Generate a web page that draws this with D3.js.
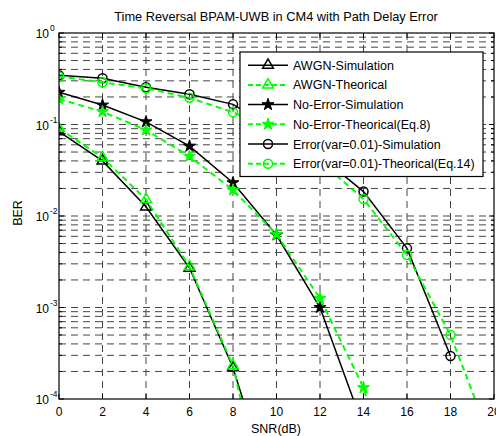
<!DOCTYPE html>
<html><head><meta charset="utf-8">
<script src="https://cdn.jsdelivr.net/npm/d3@7/dist/d3.min.js"></script>
<style>body{margin:0;background:#fff}svg{display:block}text{font-family:"Liberation Sans",Arial,sans-serif}</style>
</head><body><svg id="c" width="496" height="436"></svg>
<script>
const snr = [0, 2, 4, 6, 8, 10, 12, 14, 16, 18, 20];
const awgnSim = [0.0835, 0.040, 0.0126, 0.0027, 0.00022, 6.6e-6, null, null, null, null, null];
const awgnTheo = [0.091, 0.0434, 0.0152, 0.0028, 0.000231, 1.9e-6, null, null, null, null, null];
const noErrSim = [0.225, 0.163, 0.107, 0.058, 0.0231, 0.0062, 0.001, 4.9e-5, null, null, null];
const noErrTheo = [0.19, 0.138, 0.087, 0.045, 0.0192, 0.0063, 0.00126, 1.33e-4, 3e-6, null, null];
const errSim = [0.345, 0.32, 0.255, 0.214, 0.166, 0.087, 0.045, 0.0185, 0.00443, 2.95e-4, null];
const errTheo = [0.335, 0.289, 0.249, 0.196, 0.136, 0.085, 0.040, 0.0153, 0.00375, 5.0e-4, 2.9e-5];
const xTicks = [0, 2, 4, 6, 8, 10, 12, 14, 16, 18, 20];
const yTicks = [1e-4, 1e-3, 1e-2, 1e-1, 1];
const yTickExp = ["-4", "-3", "-2", "-1", "0"];
const seriesNames = ["AWGN-Simulation", "AWGN-Theorical", "No-Error-Simulation", "No-Error-Theorical(Eq.8)", "Error(var=0.01)-Simulation", "Error(var=0.01)-Theorical(Eq.14)"];
const titleText = "Time Reversal BPAM-UWB in CM4 with Path Delay Error";

const series = [
  {name: seriesNames[0], vals: awgnSim, color: "#000", dash: null, sym: "tri"},
  {name: seriesNames[1], vals: awgnTheo, color: "#00ff00", dash: "6,4", sym: "tri"},
  {name: seriesNames[2], vals: noErrSim, color: "#000", dash: null, sym: "star"},
  {name: seriesNames[3], vals: noErrTheo, color: "#00ff00", dash: "6,4", sym: "star"},
  {name: seriesNames[4], vals: errSim, color: "#000", dash: null, sym: "circ"},
  {name: seriesNames[5], vals: errTheo, color: "#00ff00", dash: "6,4", sym: "circ"}
];

const L = 59, R = 494, T = 33, B = 399;
const x = d3.scaleLinear().domain([0, 20]).range([L, R]);
const y = d3.scaleLog().domain([1e-4, 1]).range([B, T]);
const svg = d3.select("#c");

svg.append("defs").append("clipPath").attr("id", "clip")
  .append("rect").attr("x", L).attr("y", T).attr("width", R - L).attr("height", B - T);

// grid
const minor = [];
for (let e = -4; e < 0; e++) for (let m = 1; m <= 9; m++) minor.push(m * Math.pow(10, e));
const gridG = svg.append("g");
gridG.selectAll("line.h").data(minor.slice(1)).enter().append("line")
  .attr("x1", L).attr("x2", R).attr("y1", d => y(d)).attr("y2", d => y(d))
  .attr("stroke", "#444").attr("stroke-width", 1).attr("stroke-dasharray", "7,5");
gridG.selectAll("line.v").data(xTicks.slice(1, -1)).enter().append("line")
  .attr("x1", d => x(d)).attr("x2", d => x(d)).attr("y1", T).attr("y2", B)
  .attr("stroke", "#444").attr("stroke-width", 1).attr("stroke-dasharray", "7,5");

// ticks
const tk = svg.append("g").attr("stroke", "#000").attr("stroke-width", 1);
xTicks.forEach(d => {
  tk.append("line").attr("x1", x(d)).attr("x2", x(d)).attr("y1", B).attr("y2", B - 5);
  tk.append("line").attr("x1", x(d)).attr("x2", x(d)).attr("y1", T).attr("y2", T + 5);
});
minor.concat([1]).forEach(d => {
  const len = (Math.abs(Math.log10(d) - Math.round(Math.log10(d))) < 1e-9) ? 5 : 3;
  tk.append("line").attr("x1", L).attr("x2", L + len).attr("y1", y(d)).attr("y2", y(d));
  tk.append("line").attr("x1", R).attr("x2", R - len).attr("y1", y(d)).attr("y2", y(d));
});

// data
const plot = svg.append("g").attr("clip-path", "url(#clip)");
const lineGen = d3.line().defined(d => d[1] != null).x(d => x(d[0])).y(d => y(d[1]));
function drawMarker(g, sym, color, cx, cy) {
  if (sym === "tri") {
    g.append("path").attr("d", d3.symbol(d3.symbolTriangle, 50)()).attr("transform", `translate(${cx},${cy})`)
      .attr("fill", "none").attr("stroke", color).attr("stroke-width", 1.5);
  } else if (sym === "star") {
    g.append("path").attr("d", d3.symbol(d3.symbolStar, 45)()).attr("transform", `translate(${cx},${cy})`)
      .attr("fill", color).attr("stroke", color).attr("stroke-width", 1);
  } else {
    g.append("circle").attr("cx", cx).attr("cy", cy).attr("r", 4.5)
      .attr("fill", "none").attr("stroke", color).attr("stroke-width", 1.5);
  }
}
series.forEach(s => {
  const pts = snr.map((v, i) => [v, s.vals[i]]);
  plot.append("path").datum(pts).attr("d", lineGen).attr("fill", "none")
    .attr("stroke", s.color).attr("stroke-width", s.dash ? 2 : 1.5)
    .attr("stroke-dasharray", s.dash);
  pts.filter(p => p[1] != null && p[1] >= 1e-4).forEach(p => drawMarker(plot, s.sym, s.color, x(p[0]), y(p[1])));
});

// frame
svg.append("rect").attr("x", L).attr("y", T).attr("width", R - L).attr("height", B - T)
  .attr("fill", "none").attr("stroke", "#000").attr("stroke-width", 1.2);

// labels
svg.selectAll("text.xt").data(xTicks).enter().append("text")
  .attr("x", d => x(d)).attr("y", 416).attr("text-anchor", "middle")
  .attr("font-size", 12).text(d => d);
yTicks.forEach((d, i) => {
  svg.append("text").attr("x", 49).attr("y", y(d) + 5).attr("text-anchor", "end").attr("font-size", 12).text("10");
  svg.append("text").attr("x", 50).attr("y", y(d) - 2).attr("font-size", 8.5).text(yTickExp[i]);
});
svg.append("text").attr("x", 276).attr("y", 21).attr("text-anchor", "middle").attr("font-size", 12.8).text(titleText);
svg.append("text").attr("x", 276).attr("y", 433).attr("text-anchor", "middle").attr("font-size", 12.5).text("SNR(dB)");
svg.append("text").attr("transform", "translate(22,213) rotate(-90)").attr("text-anchor", "middle").attr("font-size", 12.5).text("BER");

// legend
const lg = svg.append("g");
lg.append("rect").attr("x", 240).attr("y", 52).attr("width", 243).attr("height", 124.5)
  .attr("fill", "#fff").attr("stroke", "#000").attr("stroke-width", 1.2);
series.forEach((s, i) => {
  const ry = 65.2 + i * 19.7;
  lg.append("line").attr("x1", 248).attr("x2", 288).attr("y1", ry).attr("y2", ry)
    .attr("stroke", s.color).attr("stroke-width", s.dash ? 2 : 1.5).attr("stroke-dasharray", s.dash ? "5,3" : null);
  drawMarker(lg, s.sym, s.color, 268, ry);
  lg.append("text").attr("x", 293).attr("y", ry + 4.5).attr("font-size", 12.5).text(s.name);
});
</script></body></html>
